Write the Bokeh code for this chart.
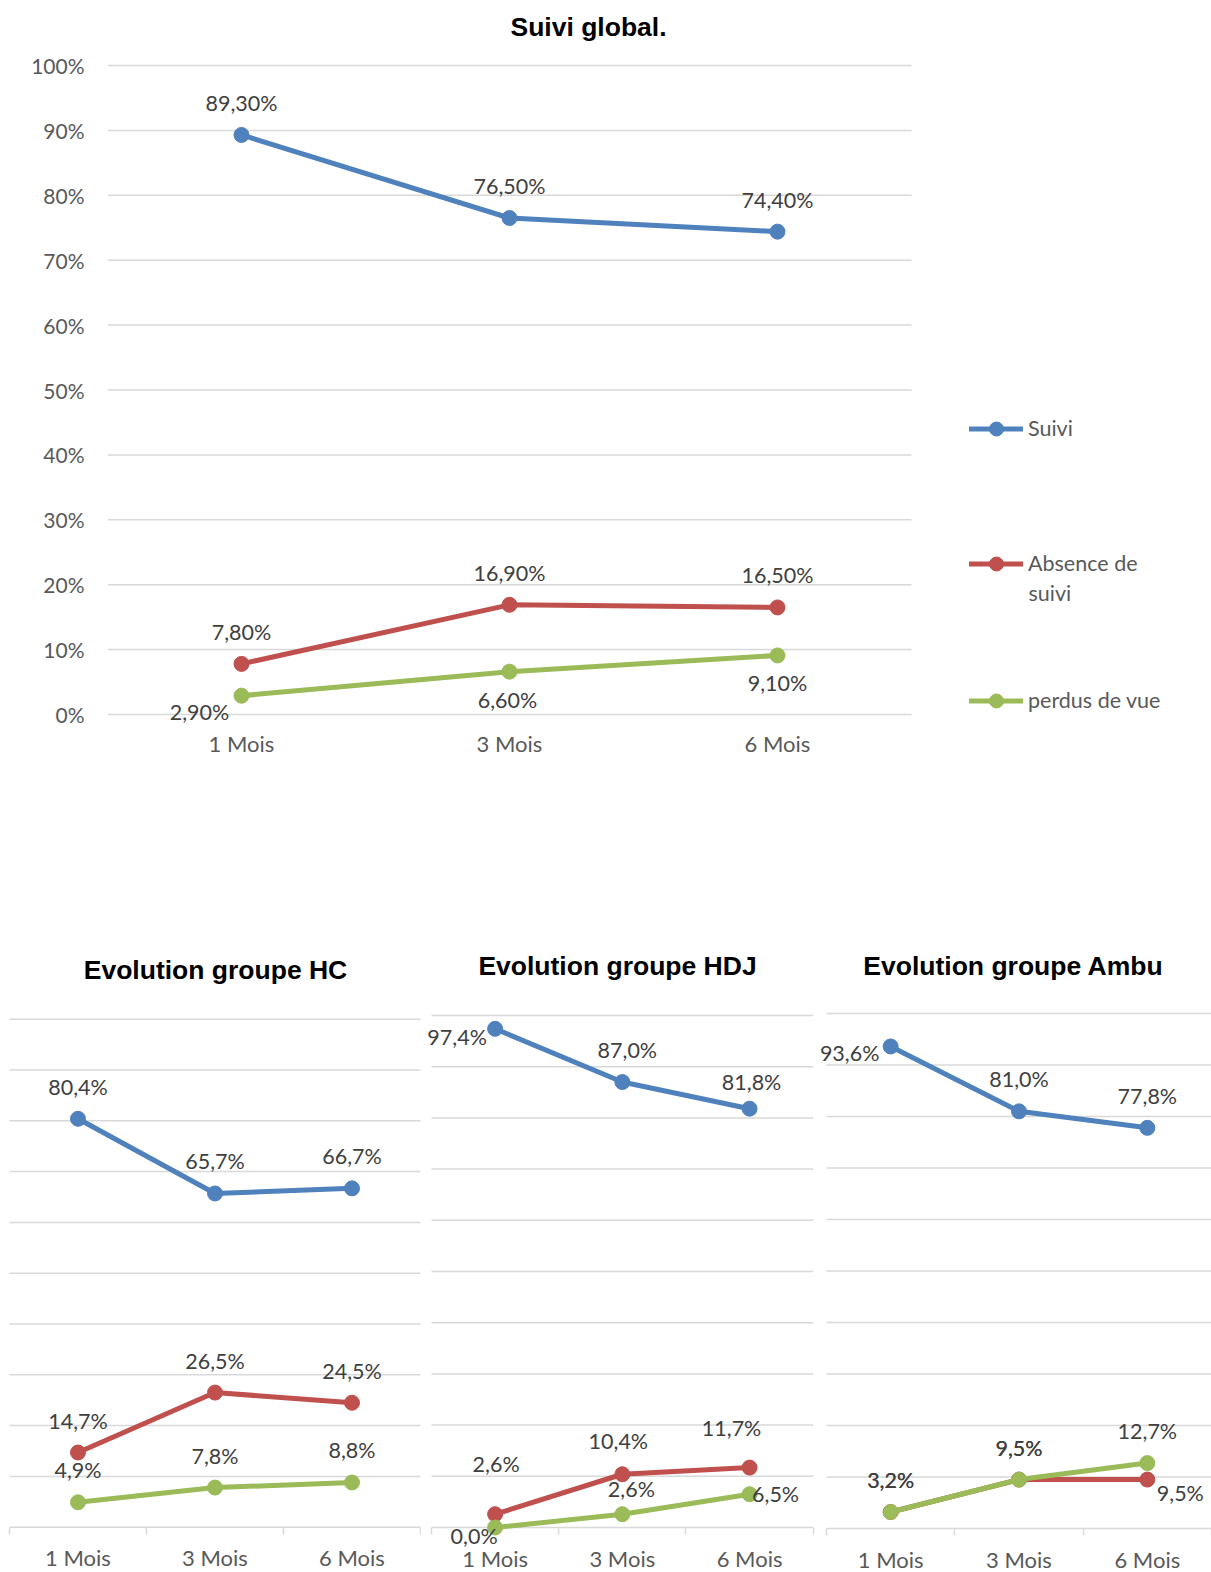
from bokeh.plotting import figure
from bokeh.layouts import column, row
from bokeh.models import (ColumnDataSource, FixedTicker, Legend, LegendItem,
                          Range1d, LabelSet, Label)
from bokeh.core.properties import value
from bokeh.embed import file_html
from bokeh.resources import INLINE

# ---- data -------------------------------------------------------------
months = ["1 Mois", "3 Mois", "6 Mois"]
# legend text, wrapped onto lines as it is laid out next to the chart
series_names = [["Suivi"], ["Absence de", "suivi"], ["perdus de vue"]]
y_ticks = list(range(0, 101, 10))

global_suivi = [89.3, 76.5, 74.4]
global_absence = [7.8, 16.9, 16.5]
global_perdus = [2.9, 6.6, 9.1]

hc_suivi = [80.4, 65.7, 66.7]
hc_absence = [14.7, 26.5, 24.5]
hc_perdus = [4.9, 7.8, 8.8]

hdj_suivi = [97.4, 87.0, 81.8]
hdj_absence = [2.6, 10.4, 11.7]
hdj_perdus = [0.0, 2.6, 6.5]

ambu_suivi = [93.6, 81.0, 77.8]
ambu_absence = [3.2, 9.5, 9.5]
ambu_perdus = [3.2, 9.5, 12.7]

# ---- style ------------------------------------------------------------
series_colors = ["#4F81BD", "#C0504D", "#9BBB59"]
GRID = "#D9D9D9"
LABEL_FONT = "Lato"
TITLE_FONT = "Liberation Sans"
LINE_W = 5
DOT = 15

# per-point label offsets in pixels (dx, dy; dy > 0 moves down)
ABOVE = [(0, -32), (0, -32), (0, -32)]
global_offsets = [ABOVE, ABOVE, [(-42, 16), (-2, 28), (0, 28)]]
hc_offsets = [ABOVE, ABOVE, ABOVE]
hdj_offsets = [[(-38, 8), (5, -32), (2, -27)],
               [(1, -50), (-4, -33), (-18, -40)],
               [(-21, 8), (9, -25), (26, 0)]]
ambu_offsets = [[(-41, 7), (0, -32), (0, -32)],
                [(0, -32), (0, -32), (33, 13)],
                [(0, -32), (0, -32), (0, -32)]]

centers = [i + 0.5 for i in range(len(months))]
bounds = list(range(len(months) + 1))


def pct(v, decimals):
    return f"{v:.{decimals}f}".replace(".", ",") + "%"


def make_fig(width, height, left_border, x0_px, x3_px, y0_px, y100_px):
    """Figure whose frame spans the whole panel; the category band and
    the 0-100 % scale are placed at the given pixel positions."""
    n = len(months)
    kx = (x3_px - x0_px) / n
    ky = (y100_px - y0_px) / 100.0
    p = figure(width=width, height=height, title=None,
               x_range=Range1d((left_border - x0_px) / kx, (width - x0_px) / kx),
               y_range=Range1d((height - y0_px) / ky, (0 - y0_px) / ky),
               output_backend="svg", toolbar_location=None,
               min_border_left=left_border, min_border_right=0,
               min_border_top=0, min_border_bottom=0,
               outline_line_color=None, background_fill_color="white",
               border_fill_color="white")
    p.xgrid.visible = False
    p.ygrid.visible = False
    # horizontal gridlines limited to the category band
    p.segment(x0=[0] * len(y_ticks), x1=[n] * len(y_ticks), y0=y_ticks,
              y1=y_ticks, line_color=GRID, line_width=1.5)

    def to_x(px):
        return (px - x0_px) / kx

    def to_y(py):
        return (py - y0_px) / ky
    return p, to_x, to_y


def style_xaxis(ax, tick_len, standoff):
    ax.fixed_location = 0
    ax.ticker = FixedTicker(ticks=centers, minor_ticks=bounds if tick_len else [])
    ax.major_label_overrides = {c: m for c, m in zip(centers, months)}
    ax.axis_line_color = None
    ax.major_tick_in = 0
    ax.major_tick_out = 0
    ax.minor_tick_in = 0
    ax.minor_tick_out = tick_len
    ax.minor_tick_line_color = GRID if tick_len else None
    ax.minor_tick_line_width = 1.5
    ax.major_label_standoff = standoff
    ax.major_label_text_font = LABEL_FONT
    ax.major_label_text_font_size = "22px"
    ax.major_label_text_color = "#595959"


def add_title(p, text, x, y):
    p.add_layout(Label(x=x, y=y, text=text, text_align="center",
                       text_baseline="middle", text_font=TITLE_FONT,
                       text_font_size="26.5px", text_font_style="bold",
                       text_color="#000000"))


def draw_series(p, series, decimals, offsets):
    handles, labelsets = [], []
    for vals, color, offs in zip(series, series_colors, offsets):
        src = ColumnDataSource(dict(
            x=centers, y=vals, label=[pct(v, decimals) for v in vals],
            dx=[o[0] for o in offs], dy=[-o[1] for o in offs]))
        ln = p.line("x", "y", source=src, line_color=color, line_width=LINE_W,
                    line_cap="round", line_join="round")
        dot = p.scatter("x", "y", source=src, size=DOT, fill_color=color,
                        line_color=color, line_width=1)
        handles.append((ln, dot))
        labelsets.append(LabelSet(
            x="x", y="y", text="label", source=src, x_offset="dx", y_offset="dy",
            text_font=value(LABEL_FONT), text_font_size="21.5px",
            text_color="#404040", text_align="center", text_baseline="middle"))
    for ls in labelsets:
        p.add_layout(ls)
    return handles


# ---- overall follow-up chart --------------------------------------------
TOP_W, TOP_H, TOP_LEFT = 1211, 930, 107
top, tx, ty = make_fig(TOP_W, TOP_H, TOP_LEFT, 107, 911, 714, 65)
add_title(top, "Suivi global.", tx(588), ty(26))

top.yaxis.ticker = FixedTicker(ticks=y_ticks)
top.yaxis.major_label_overrides = {t: f"{t}%" for t in y_ticks}
top.yaxis.axis_line_color = None
top.yaxis.major_tick_in = 0
top.yaxis.major_tick_out = 0
top.yaxis.minor_tick_line_color = None
top.yaxis.major_label_standoff = 23
top.yaxis.major_label_text_font = LABEL_FONT
top.yaxis.major_label_text_font_size = "21px"
top.yaxis.major_label_text_color = "#595959"
style_xaxis(top.xaxis[0], 0, 15)

handles = draw_series(top, [global_suivi, global_absence, global_perdus], 2,
                      global_offsets)

# one legend block per series, stacked down the right-hand side;
# continuation lines of a wrapped entry sit under its first line
LEG_X, LEG_GLYPH_W, LEG_GLYPH_H, LEG_STANDOFF = 969, 54, 35, 5
LEG_LINE_STEP = 29
legend_rows = [428, 563, 700]
for lines, h, cy in zip(series_names, handles, legend_rows):
    lg = Legend(items=[LegendItem(label=lines[0], renderers=list(h))],
                location=(LEG_X - TOP_LEFT, TOP_H - (cy - LEG_GLYPH_H / 2) - LEG_GLYPH_H),
                orientation="vertical", glyph_width=LEG_GLYPH_W,
                glyph_height=LEG_GLYPH_H, label_standoff=LEG_STANDOFF,
                spacing=0, padding=0, margin=0,
                border_line_color=None, background_fill_alpha=0,
                label_text_font=LABEL_FONT, label_text_font_size="21.5px",
                label_text_color="#595959")
    top.add_layout(lg)
    for k, extra in enumerate(lines[1:], start=1):
        top.add_layout(Label(
            x=tx(LEG_X + LEG_GLYPH_W + LEG_STANDOFF), y=ty(cy + k * LEG_LINE_STEP),
            text=extra, text_align="left", text_baseline="middle",
            text_font=LABEL_FONT, text_font_size="21.5px", text_color="#595959"))


# ---- per-group charts ---------------------------------------------------
BOT_H = 642
BOT_Y = TOP_H


def group_chart(title, series, offsets, page_x, width, x0, x3, y0, y100,
                title_x, title_y):
    p, gx, gy = make_fig(width, BOT_H, 0, x0 - page_x, x3 - page_x,
                         y0 - BOT_Y, y100 - BOT_Y)
    p.yaxis.visible = False
    style_xaxis(p.xaxis[0], 7, 10)
    add_title(p, title, gx(title_x - page_x), gy(title_y - BOT_Y))
    draw_series(p, series, 1, offsets)
    return p


hc = group_chart("Evolution groupe HC", [hc_suivi, hc_absence, hc_perdus],
                 hc_offsets, 0, 421, 9, 420, 1526.7, 1018.7, 215, 969)
hdj = group_chart("Evolution groupe HDJ", [hdj_suivi, hdj_absence, hdj_perdus],
                  hdj_offsets, 421, 397, 431, 812.7, 1527, 1015, 617, 965)
ambu = group_chart("Evolution groupe Ambu", [ambu_suivi, ambu_absence, ambu_perdus],
                   ambu_offsets, 818, 393, 826, 1211, 1528, 1013, 1013, 965)

layout = column(top, row(hc, hdj, ambu))

with open("out.html", "w") as f:
    f.write(file_html(layout, INLINE))
